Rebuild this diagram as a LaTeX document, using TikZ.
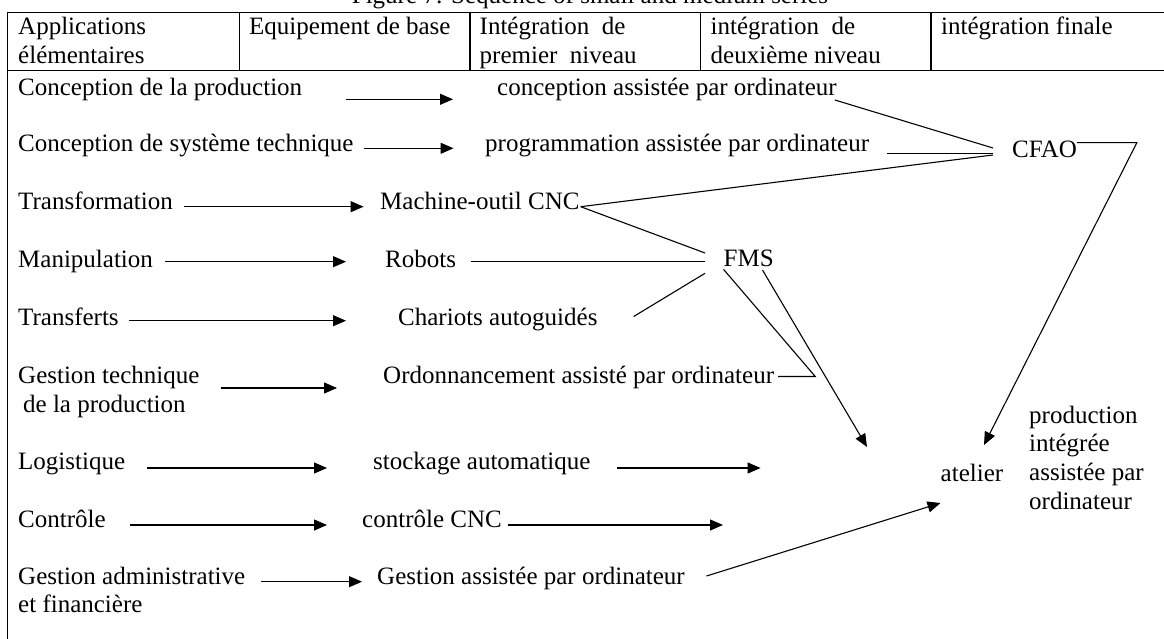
\documentclass[tikz,border=0pt]{standalone}
\usepackage{fontspec}
\setmainfont{Liberation Serif}
\usetikzlibrary{arrows.meta,calc}

% several lines of text, aligned on the baseline of the first one
\newcommand{\stack}[1]{\begin{tabular}[t]{@{}l@{}}#1\end{tabular}}

\begin{document}
\begin{tikzpicture}[x=1pt,y=-1pt,
  every node/.style={inner sep=0pt,anchor=base west,
    font=\fontsize{25}{28.75}\selectfont},
  rule/.style={line width=1.1pt,line cap=rect},
  conn/.style={line width=1.1pt},
  arr/.style={conn,-{Triangle[length=13pt,width=11pt]}}
]
\useasboundingbox (0,0) rectangle (1164,639);

% caption, partly above the page
\node[anchor=base] (title) at (590,4) {Figure 7: Sequence of small and medium series};

% header row of the table
\draw[rule] (7.7,12.5) -- (1164,12.5);
\draw[rule] (7.7,70.5) -- (1164,70.5);
\draw[rule] (7.7,12.5) -- (7.7,639);
\foreach \cx in {239.5,470,700.5,931}
  \draw[rule] (\cx,12.5) -- (\cx,70.5);

\node (h1) at (18,35)    {\stack{Applications\\élémentaires}};
\node (h2) at (249,35)   {Equipement de base};
\node (h3) at (479.5,35) {\stack{Intégration\ \ de\\premier\ \ niveau}};
\node (h4) at (710.5,35) {\stack{intégration\ \ de\\deuxième niveau}};
\node (h5) at (941,35)   {intégration finale};

% elementary applications
\node (l1) at (18,95.5)  {Conception de la production};
\node (l2) at (18,152)   {Conception de système technique};
\node (l3) at (18,210)   {Transformation};
\node (l4) at (18,267.5) {Manipulation};
\node (l5) at (18,325.5) {Transferts};
\node (l6) at (18,383.5) {\stack{Gestion technique\\\hspace*{5pt}de la production}};
\node (l7) at (18,469)   {Logistique};
\node (l8) at (18,527)   {Contrôle};
\node (l9) at (18,584)   {\stack{Gestion administrative\\et financière}};

% equipment and first level integration
\node (m1) at (497,95.5)  {conception assistée par ordinateur};
\node (m2) at (485,152)   {programmation assistée par ordinateur};
\node (m3) at (380,210)   {Machine-outil CNC};
\node (m4) at (385,267.5) {Robots};
\node (m5) at (398,325.5) {Chariots autoguidés};
\node (m6) at (383,383.5) {Ordonnancement assisté par ordinateur};
\node (m7) at (373,469)   {stockage automatique};
\node (m8) at (362,527)   {contrôle CNC};
\node (m9) at (377,584)   {Gestion assistée par ordinateur};

% second level and final integration
\node (cfao)    at (1012,157.5) {CFAO};
\node (fms)     at (723.5,266)  {FMS};
\node (atelier) at (940.5,481)  {atelier};
\node (cim)     at (1029,423)   {\stack{production\\intégrée\\assistée par\\ordinateur}};

\coordinate (stockEnd) at (760.6,468);
\coordinate (ctrlEnd)  at (723,525);

% arrows from the applications to the equipment
\draw[arr] ($(l1.base east)+(44,3.8)$)   -- ($(m1.base west)+(-44,3.8)$);
\draw[arr] ($(l2.base east)+(10.6,-3.7)$) -- ($(m2.base west)+(-31.5,-3.7)$);
\draw[arr] ($(l3.base east)+(10.5,-3.3)$) -- ($(m3.base west)+(-16.4,-3.3)$);
\draw[arr] ($(l4.base east)+(12.3,-5.8)$) -- ($(m4.base west)+(-39,-5.8)$);
\draw[arr] ($(l5.base east)+(10.6,-4.8)$) -- ($(m5.base west)+(-52,-4.8)$);
\draw[arr] ($(l6.base east)+(21,4.5)$)   -- ($(m6.base west)+(-46,4.5)$);
\draw[arr] ($(l7.base east)+(22,-1)$)    -- ($(m7.base west)+(-46,-1)$);
\draw[arr] ($(l8.base east)+(24.5,-2)$)  -- ($(m8.base west)+(-35,-2)$);
\draw[arr] ($(l9.base east)+(15.6,-2.3)$) -- ($(m9.base west)+(-15,-2.3)$);

% links to CFAO
\draw[conn] ($(m1.base east)+(-2,4.5)$) -- ($(cfao.base west)+(-19,-9.5)$);
\draw[conn] ($(m2.base east)+(18,1.3)$) -- ($(cfao.base west)+(-19,-4.2)$);
\draw[conn] ($(m3.base east)+(1,-3.3)$) -- ($(cfao.base west)+(-19,-2.5)$);

% links to FMS
\draw[conn] ($(m3.base east)+(1,-3.3)$)  -- ($(fms.base west)+(-18.5,-13)$);
\draw[conn] ($(m4.base east)+(15,-5.8)$) -- ($(fms.base west)+(-18.5,-4.3)$);
\draw[conn] ($(m5.base east)+(36,-9)$)   -- ($(fms.base west)+(-18.5,7.3)$);
\draw[conn] ($(m6.base east)+(4,-7)$) -- ++(37,0) -- ($(fms.base west)+(0,3.3)$);

% towards the workshop
\draw[arr] ($(fms.base west)+(39,4)$) -- ($(atelier.base west)+(-73.5,-34)$);
\draw[arr] ($(cfao.base east)+(0,-14.8)$) -- ++(59.6,0) -- ($(atelier.base west)+(43.5,-36)$);
\draw[arr] ($(m7.base east)+(26.5,-1)$) -- (stockEnd);
\draw[arr] ($(m8.base east)+(6,-2)$) -- (ctrlEnd);
\draw[arr] ($(m9.base east)+(21.6,-8)$) -- ($(atelier.base west)+(0,22)$);
\end{tikzpicture}
\end{document}
